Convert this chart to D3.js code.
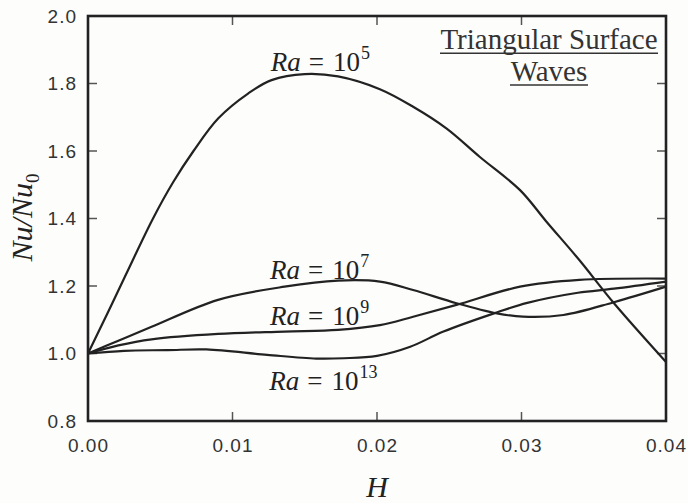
<!DOCTYPE html>
<html>
<head>
<meta charset="utf-8">
<script src="https://cdn.jsdelivr.net/npm/d3@7"></script>
</head>
<body style="margin:0;background:#fdfdfc">
<script>
// Nu/Nu0 vs H
var ra5_H  = [0, 0.0013, 0.00256, 0.0045, 0.0059, 0.0073, 0.00902, 0.0111, 0.0127, 0.0150, 0.0173, 0.0202, 0.0225, 0.0248, 0.0271, 0.0299, 0.0317, 0.0340, 0.0364, 0.0400];
var ra5_Nu = [1.0, 1.115, 1.228, 1.40, 1.508, 1.60, 1.697, 1.771, 1.810, 1.828, 1.821, 1.783, 1.731, 1.667, 1.583, 1.484, 1.392, 1.277, 1.149, 0.975];

var ra7_H  = [0, 0.0021, 0.0044, 0.0090, 0.0136, 0.0173, 0.0202, 0.0225, 0.0255, 0.0283, 0.0301, 0.0329, 0.0364, 0.0400];
var ra7_Nu = [1.0, 1.038, 1.079, 1.159, 1.198, 1.216, 1.213, 1.188, 1.149, 1.119, 1.109, 1.114, 1.152, 1.198];

var ra9_H  = [0, 0.0021, 0.0044, 0.0090, 0.0136, 0.0173, 0.0202, 0.0225, 0.0255, 0.0299, 0.0340, 0.0400];
var ra9_Nu = [1.0, 1.024, 1.042, 1.058, 1.065, 1.070, 1.084, 1.109, 1.144, 1.198, 1.218, 1.222];

var ra13_H  = [0, 0.0025, 0.0055, 0.0082, 0.0124, 0.0158, 0.0177, 0.0200, 0.0223, 0.0246, 0.0281, 0.0304, 0.0339, 0.0364, 0.0400];
var ra13_Nu = [1.0, 1.008, 1.010, 1.012, 0.996, 0.985, 0.986, 0.993, 1.020, 1.065, 1.119, 1.150, 1.180, 1.192, 1.213];

var xTicks = [0, 0.01, 0.02, 0.03, 0.04];
var yTicks = [0.8, 1.0, 1.2, 1.4, 1.6, 1.8, 2.0];

// label: exponent, anchor point (H, Nu) at the start of "Ra"
var labelExp = ["5", "7", "9", "13"];
var labelH   = [0.01264, 0.01260, 0.01260, 0.01255];
var labelNu  = [1.838, 1.221, 1.085, 0.891];

var titleLines = ["Triangular Surface", "Waves"];

var series = [
  {H: ra5_H, Nu: ra5_Nu},
  {H: ra7_H, Nu: ra7_Nu},
  {H: ra9_H, Nu: ra9_Nu},
  {H: ra13_H, Nu: ra13_Nu}
];

///////////////////////////
// SVG
var margin = {top: 16, right: 22, bottom: 82, left: 88},
    width = 578,
    height = 405;

var root = d3.select("body")
  .append("svg")
  .attr("width", width + margin.left + margin.right)
  .attr("height", height + margin.top + margin.bottom);

var svg = root.append("g")
  .attr("transform", "translate(" + margin.left + "," + margin.top + ")");

var x = d3.scaleLinear().domain([0, 0.04]).range([0, width]);
var y = d3.scaleLinear().domain([0.8, 2.0]).range([height, 0]);

var tickLen = 9;
var inner = xTicks.slice(1, -1);
var innerY = yTicks.slice(1, -1);

// inward ticks on all four sides
var tk = svg.append("g").attr("stroke", "#555").attr("stroke-width", 1.5);
tk.selectAll("line.xb").data(inner).enter().append("line")
  .attr("x1", function(d){return x(d);}).attr("x2", function(d){return x(d);})
  .attr("y1", height).attr("y2", height - tickLen);
tk.selectAll("line.xt").data(inner).enter().append("line")
  .attr("x1", function(d){return x(d);}).attr("x2", function(d){return x(d);})
  .attr("y1", 0).attr("y2", tickLen);
tk.selectAll("line.yl").data(innerY).enter().append("line")
  .attr("y1", function(d){return y(d);}).attr("y2", function(d){return y(d);})
  .attr("x1", 0).attr("x2", tickLen);
tk.selectAll("line.yr").data(innerY).enter().append("line")
  .attr("y1", function(d){return y(d);}).attr("y2", function(d){return y(d);})
  .attr("x1", width).attr("x2", width - tickLen);

// tick labels
svg.append("g")
  .selectAll("text")
  .data(xTicks)
  .enter()
  .append("text")
  .attr("x", function(d){return x(d) + 0.5;})
  .attr("y", height + 31)
  .attr("text-anchor", "middle")
  .attr("font-family", "Liberation Sans")
  .attr("font-size", 19)
  .attr("letter-spacing", 1)
  .attr("fill", "#333")
  .text(function(d){return d3.format(".2f")(d);});

svg.append("g")
  .selectAll("text")
  .data(yTicks)
  .enter()
  .append("text")
  .attr("x", -11)
  .attr("y", function(d){return y(d);})
  .attr("dy", "0.36em")
  .attr("text-anchor", "end")
  .attr("font-family", "Liberation Sans")
  .attr("font-size", 19)
  .attr("letter-spacing", 1)
  .attr("fill", "#333")
  .text(function(d){return d3.format(".1f")(d);});

// curves
var line = d3.line()
  .x(function(d){return x(d[0]);})
  .y(function(d){return y(d[1]);})
  .curve(d3.curveCatmullRom.alpha(0.5));

svg.append("g")
  .selectAll("path")
  .data(series)
  .enter()
  .append("path")
  .attr("fill", "none")
  .attr("stroke", "#222")
  .attr("stroke-width", 2.2)
  .attr("d", function(s){return line(d3.zip(s.H, s.Nu));});

// frame
svg.append("rect")
  .attr("width", width).attr("height", height)
  .attr("fill", "none")
  .attr("stroke", "#222")
  .attr("stroke-width", 2.6);

// Ra labels
labelExp.forEach(function(e, i) {
  var t = svg.append("text")
    .attr("x", x(labelH[i]))
    .attr("y", y(labelNu[i]))
    .attr("fill", "#222")
    .attr("font-family", "Liberation Serif")
    .attr("font-size", 27);
  t.append("tspan").attr("font-style", "italic").text("Ra");
  t.append("tspan").attr("dx", 8).text("=");
  t.append("tspan").attr("dx", 9).text("10");
  t.append("tspan").attr("dx", 1).attr("dy", -12).attr("font-size", 18).text(e);
});

// title top right, underlined
var tbase = [33.3, 65];
var tHalf = [109, 39];
titleLines.forEach(function(s, i) {
  svg.append("text")
    .attr("x", 461)
    .attr("y", tbase[i])
    .attr("text-anchor", "middle")
    .attr("fill", "#333")
    .attr("font-family", "Liberation Serif")
    .attr("font-size", 29)
    .text(s);
  svg.append("line")
    .attr("x1", 461 - tHalf[i]).attr("x2", 461 + tHalf[i])
    .attr("y1", tbase[i] + 4).attr("y2", tbase[i] + 4)
    .attr("stroke", "#333").attr("stroke-width", 1.5);
});

// axis titles
var yl = svg.append("text")
  .attr("transform", "translate(" + (31.7 - margin.left) + "," + (217.5 - margin.top) + ") rotate(-90)")
  .attr("text-anchor", "middle")
  .attr("fill", "#222")
  .attr("font-family", "Liberation Serif")
  .attr("font-size", 30);
yl.append("tspan").attr("font-style", "italic").text("Nu/Nu");
yl.append("tspan").attr("dy", 7).attr("font-size", 19).text("0");

svg.append("text")
  .attr("x", 377 - margin.left)
  .attr("y", 497 - margin.top)
  .attr("text-anchor", "middle")
  .attr("fill", "#222")
  .attr("font-family", "Liberation Serif")
  .attr("font-style", "italic")
  .attr("font-size", 30)
  .text("H");
</script>
</body>
</html>
